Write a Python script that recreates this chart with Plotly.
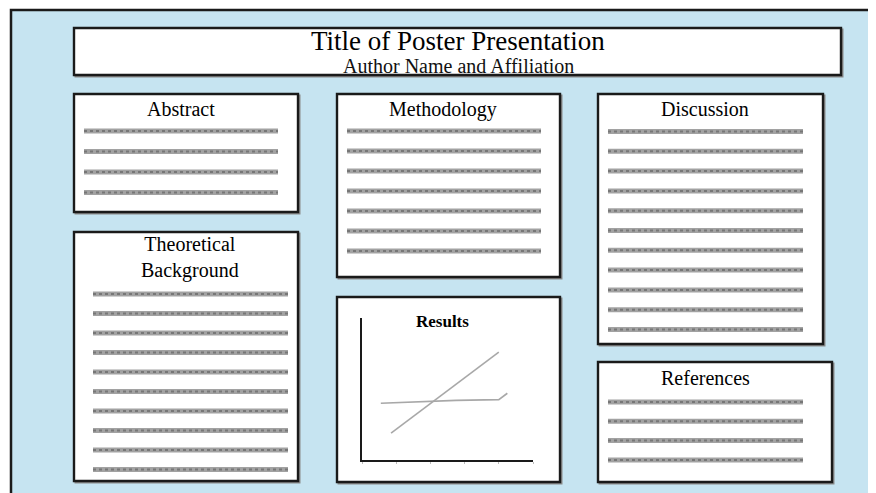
import plotly.graph_objects as go

# ---- data ----
poster_title = "Title of Poster Presentation"
poster_author = "Author Name and Affiliation"
section_titles = ["Abstract", "Methodology", "Discussion", "Theoretical<br>Background", "References"]
section_line_counts = [4, 7, 11, 10, 4]
results_title = "Results"
series_a_x = [1.7, 8.0]
series_a_y = [1.9, 7.6]
series_b_x = [1.1, 3.0, 5.5, 8.0, 8.5]
series_b_y = [4.0, 4.1, 4.2, 4.25, 4.7]

# ---- layout (pixel geometry, window coordinates) ----
W, H = 876, 493
OFF = 8  # page body margin
BLUE = "#c6e4f1"
INK = "#1a1a1a"
SCRIBBLE = "#a2a2a2"
SERIF = "Liberation Serif, Times New Roman, serif"

sections = [
    dict(box=(74, 94, 298, 212), head=(181, 109), first=131, step=20.5, lx=(84, 278)),
    dict(box=(337, 94, 560, 277), head=(443, 109), first=131, step=20.0, lx=(347, 541)),
    dict(box=(598, 94, 823, 344), head=(705, 109), first=131.5, step=19.8, lx=(608, 803)),
    dict(box=(74, 232, 298, 481), head=(190, 257), first=294, step=19.5, lx=(93, 288)),
    dict(box=(598, 362, 832, 482), head=(705, 378), first=402, step=19.3, lx=(608, 803)),
]
title_box = (74, 28, 841, 75)
results_box = (337, 297, 560, 482)

fig = go.Figure()
shapes = []
annotations = []

# outer panel
shapes.append(dict(type="rect", xref="x", yref="y", x0=11, y0=10, x1=W + 20, y1=H + 20,
                   fillcolor=BLUE, line=dict(color=INK, width=2.5), layer="below"))


def box(b):
    shapes.append(dict(type="rect", xref="x", yref="y", x0=b[0] + 1.5, y0=b[1] + 1.5,
                       x1=b[2] + 1.5, y1=b[3] + 1.5, fillcolor="rgba(0,0,0,0)",
                       line=dict(color="#8a8a8a", width=2), layer="below"))
    shapes.append(dict(type="rect", xref="x", yref="y", x0=b[0], y0=b[1], x1=b[2], y1=b[3],
                       fillcolor="white", line=dict(color=INK, width=2.4), layer="below"))


box(title_box)
cx = 458
annotations.append(dict(x=cx, y=41, xref="x", yref="y", text=poster_title, showarrow=False,
                        font=dict(family=SERIF, size=27, color="#000"), yanchor="middle"))
annotations.append(dict(x=cx, y=66, xref="x", yref="y", text=poster_author, showarrow=False,
                        font=dict(family=SERIF, size=20, color="#111"), yanchor="middle"))

for name, n, s in zip(section_titles, section_line_counts, sections):
    b = s["box"]
    box(b)
    annotations.append(dict(x=s["head"][0], y=s["head"][1],
                            xref="x", yref="y", text=name, showarrow=False,
                            font=dict(family=SERIF, size=20, color="#000"), yanchor="middle"))
    for i in range(n):
        y = s["first"] + i * s["step"]
        shapes.append(dict(type="line", xref="x", yref="y", x0=s["lx"][0], x1=s["lx"][1], y0=y, y1=y,
                           line=dict(color=SCRIBBLE, width=5), layer="above"))
        shapes.append(dict(type="line", xref="x", yref="y", x0=s["lx"][0], x1=s["lx"][1], y0=y, y1=y,
                           line=dict(color="#777777", width=2, dash="dot"), layer="above"))

# results panel
box(results_box)
annotations.append(dict(x=442, y=321, xref="x", yref="y", text="<b>" + results_title + "</b>",
                        showarrow=False, font=dict(family=SERIF, size=17, color="#000"),
                        yanchor="middle"))

fig.add_trace(go.Scatter(x=series_a_x, y=series_a_y, mode="lines", xaxis="x2", yaxis="y2",
                         line=dict(color="#a8a8a8", width=1.6), showlegend=False, hoverinfo="skip"))
fig.add_trace(go.Scatter(x=series_b_x, y=series_b_y, mode="lines", xaxis="x2", yaxis="y2",
                         line=dict(color="#a8a8a8", width=1.6), showlegend=False, hoverinfo="skip"))

ax_x0, ax_x1, ax_y0, ax_y1 = 362, 533, 318, 460
fig.update_layout(
    width=W, height=H, margin=dict(l=0, r=0, t=0, b=0),
    paper_bgcolor="white", plot_bgcolor="rgba(0,0,0,0)", showlegend=False,
    xaxis=dict(range=[OFF, W + OFF], visible=False, fixedrange=True),
    yaxis=dict(range=[H + OFF, OFF], visible=False, fixedrange=True),
    xaxis2=dict(domain=[(ax_x0 - OFF) / W, (ax_x1 - OFF) / W], range=[0, 10], anchor="y2",
                showline=True, linecolor=INK, linewidth=2, showgrid=False, zeroline=False,
                ticks="outside", ticklen=2, tickcolor="#bbbbbb", tickvals=[0, 2, 4, 6, 8, 10],
                showticklabels=False),
    yaxis2=dict(domain=[1 - (ax_y1 - OFF) / H, 1 - (ax_y0 - OFF) / H], range=[0, 10], anchor="x2",
                showline=True, linecolor=INK, linewidth=2, showgrid=False, zeroline=False,
                showticklabels=False, ticks=""),
    shapes=shapes, annotations=annotations,
)

fig.write_html("out.html")
